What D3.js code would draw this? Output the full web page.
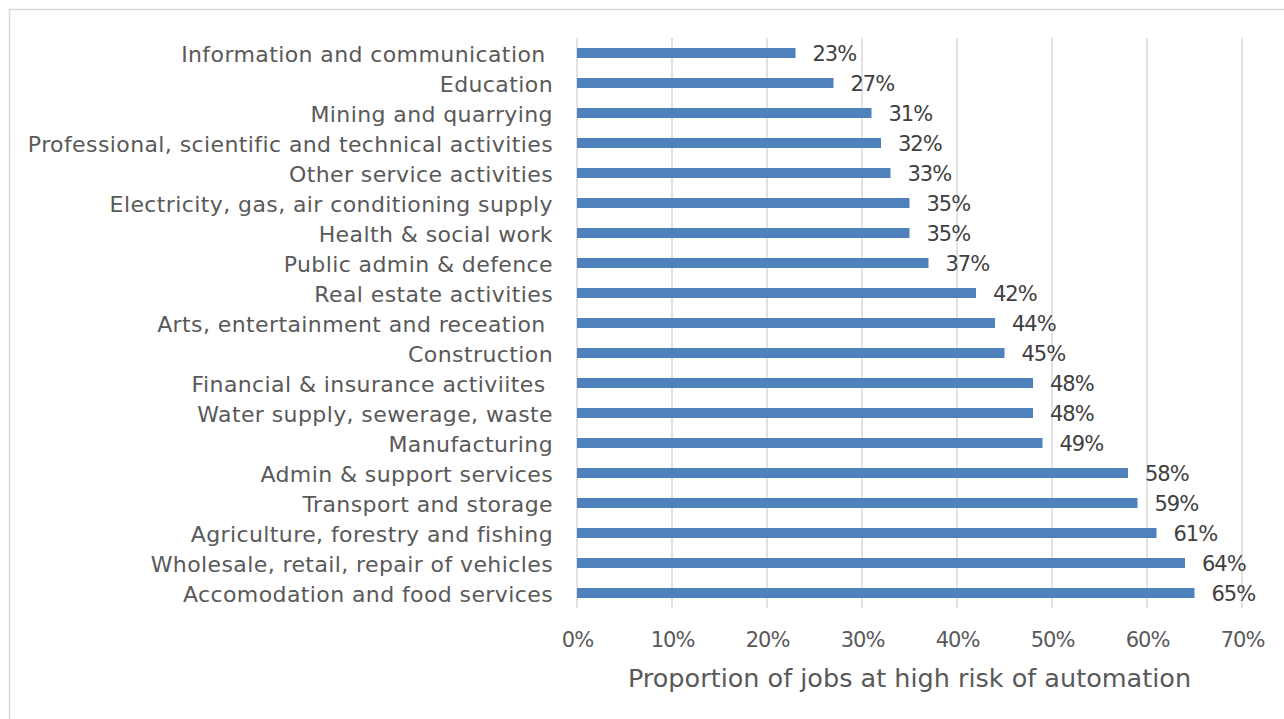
<!DOCTYPE html>
<html>
<head>
<meta charset="utf-8">
<script src="https://cdn.jsdelivr.net/npm/d3@7"></script>
<style>
  html, body { margin: 0; padding: 0; background: #fff; }
  svg { display: block; }
  text { font-family: "DejaVu Sans", sans-serif; }
</style>
</head>
<body>
<svg id="chart" width="1284" height="719"></svg>
<script>
const categories = [
  "Information and communication ",
  "Education",
  "Mining and quarrying",
  "Professional, scientific and technical activities",
  "Other service activities",
  "Electricity, gas, air conditioning supply",
  "Health & social work",
  "Public admin & defence",
  "Real estate activities",
  "Arts, entertainment and receation ",
  "Construction",
  "Financial & insurance activiites ",
  "Water supply, sewerage, waste",
  "Manufacturing",
  "Admin & support services",
  "Transport and storage",
  "Agriculture, forestry and fishing",
  "Wholesale, retail, repair of vehicles",
  "Accomodation and food services"
];
const values = [0.23, 0.27, 0.31, 0.32, 0.33, 0.35, 0.35, 0.37, 0.42, 0.44, 0.45, 0.48, 0.48, 0.49, 0.58, 0.59, 0.61, 0.64, 0.65];
const xTicks = [0, 0.1, 0.2, 0.3, 0.4, 0.5, 0.6, 0.7];
const axisTitle = "Proportion of jobs at high risk of automation";

const svg = d3.select("#chart");

// chart border
svg.append("rect")
  .attr("x", 9.5).attr("y", 9.5)
  .attr("width", 1290).attr("height", 720)
  .attr("fill", "none").attr("stroke", "#d9d9d9").attr("stroke-width", 1.5);

const x = d3.scaleLinear().domain([0, 0.7]).range([577, 1242]);
const y = d3.scaleBand().domain(categories).range([38, 608])
  .paddingInner(2/3).paddingOuter(1/3);

// gridlines
svg.append("g").selectAll("line").data(xTicks).join("line")
  .attr("x1", d => x(d)).attr("x2", d => x(d))
  .attr("y1", 38).attr("y2", 608)
  .attr("stroke", "#d9d9d9").attr("stroke-width", 1.5);

// bars
svg.append("g").selectAll("rect").data(values).join("rect")
  .attr("x", x(0))
  .attr("y", (d, i) => y(categories[i]))
  .attr("width", d => x(d) - x(0))
  .attr("height", y.bandwidth())
  .attr("fill", "#4f81bd");

// value labels
svg.append("g").selectAll("text").data(values).join("text")
  .attr("x", d => x(d) + 17)
  .attr("y", (d, i) => y(categories[i]) + y.bandwidth() / 2 + 1)
  .attr("dominant-baseline", "central")
  .attr("font-size", 21)
  .attr("letter-spacing", -1)
  .attr("fill", "#404040")
  .text(d => Math.round(d * 100) + "%");

// category axis labels
svg.append("g").selectAll("text").data(categories).join("text")
  .attr("x", 553)
  .attr("y", d => y(d) + y.bandwidth() / 2 + 1)
  .attr("dominant-baseline", "central")
  .attr("text-anchor", "end")
  .attr("font-size", 22)
  .attr("letter-spacing", 0.4)
  .attr("fill", "#595959")
  .style("white-space", "pre")
  .text(d => d);

// x axis tick labels
const xAxis = d3.axisBottom(x).tickValues(xTicks).tickFormat(d3.format(".0%")).tickSize(0).tickPadding(0);
const gx = svg.append("g").attr("transform", "translate(0,632)").call(xAxis);
gx.select(".domain").remove();
gx.selectAll("text")
  .attr("font-size", 21)
  .attr("letter-spacing", -1)
  .attr("fill", "#595959")
  .attr("font-family", "DejaVu Sans, sans-serif");

// axis title
svg.append("text")
  .attr("x", (x(0) + x(0.7)) / 2)
  .attr("y", 678)
  .attr("dominant-baseline", "central")
  .attr("text-anchor", "middle")
  .attr("font-size", 25.5)
  .attr("fill", "#595959")
  .text(axisTitle);
</script>
</body>
</html>
